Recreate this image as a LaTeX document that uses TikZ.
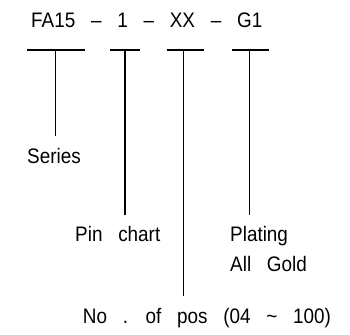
\documentclass[tikz,border=0pt]{standalone}
\usepackage{fontspec}
\setmainfont[WordSpace=3,FakeStretch=0.9]{Liberation Sans}
\begin{document}
\begin{tikzpicture}[x=1pt,y=-1pt,
  lbl/.style={anchor=base west,inner sep=0pt,font=\fontsize{21}{25}\selectfont},
  ln/.style={line width=1.1pt}]
\useasboundingbox (0,0) rectangle (350,334);
\node[lbl] (title) at (31,27.3) {FA15 – 1 – XX – G1};
\node[lbl] (series) at (27,163.3) {Series};
\node[lbl] (pin) at (75,241.7) {Pin chart};
\node[lbl] (plating) at (230,241.7) {Plating};
\node[lbl] (gold) at (230,271.7) {All Gold};
\node[lbl] (pos) at (82.7,323.3) {No . of pos (04 \textasciitilde{} 100)};
% bars
\coordinate (b1l) at (26.7,50); \coordinate (b1r) at (85,50);
\coordinate (b1m) at (55.3,50); \coordinate (b1e) at (55.3,135.7);
\coordinate (b2l) at (110,50); \coordinate (b2r) at (140,50);
\coordinate (b2m) at (125,50); \coordinate (b2e) at (125,215);
\coordinate (b3l) at (166.7,50); \coordinate (b3r) at (204,50);
\coordinate (b3m) at (183.3,50); \coordinate (b3e) at (183.3,296);
\coordinate (b4l) at (232.3,50); \coordinate (b4r) at (269.3,50);
\coordinate (b4m) at (249.3,50); \coordinate (b4e) at (249.3,215);
\draw[ln] (b1l) -- (b1r); \draw[ln] (b1m) -- (b1e);
\draw[ln] (b2l) -- (b2r); \draw[ln] (b2m) -- (b2e);
\draw[ln] (b3l) -- (b3r); \draw[ln] (b3m) -- (b3e);
\draw[ln] (b4l) -- (b4r); \draw[ln] (b4m) -- (b4e);
\end{tikzpicture}
\end{document}
